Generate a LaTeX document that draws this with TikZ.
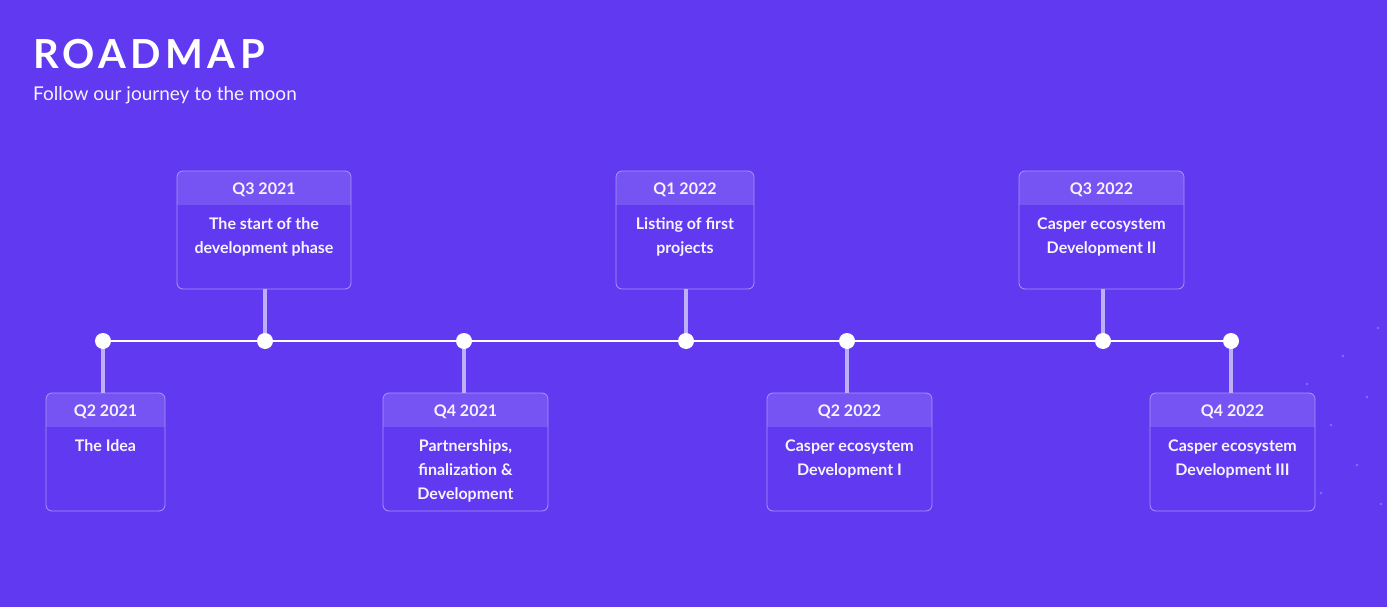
\documentclass[tikz,border=0pt]{standalone}
\usepackage{fontspec}
\setmainfont{Lato}
\newfontfamily\titlefont[LetterSpace=11]{Lato}
\definecolor{bgc}{RGB}{96,57,241}
\definecolor{hdrc}{RGB}{117,84,243}
\definecolor{edgec}{RGB}{170,150,248}
\definecolor{stemc}{RGB}{190,175,250}
\definecolor{txtc}{RGB}{246,243,255}
\definecolor{starc}{RGB}{135,110,245}
% #1 name, #2 x1, #3 y1, #4 x2, #5 y2, #6 header, #7 body, #8 number of body lines
\newcommand\rmbox[8]{%
  \node[boxshape, minimum width={#4-#2}, minimum height={#5-#3}] (#1) at ({(#2+#4)/2},{(#3+#5)/2}) {};
  \begin{scope}
    \clip[rounded corners=6pt] (#1.south west) rectangle (#1.north east);
    \fill[hdrc] (#1.north west) rectangle ([yshift=-34pt]#1.north east);
  \end{scope}
  \draw[edgec, line width=0.8pt, rounded corners=6pt] (#1.south west) rectangle (#1.north east);
  \node[hdrtext] (#1h) at ({(#2+#4)/2},{#3+23}) {#6};
  \node[bodytext] (#1b) at ({(#2+#4)/2},{#3+58+24*(#8-1)}) {#7};
}
\begin{document}
\begin{tikzpicture}[x=1pt,y=-1pt,
  boxshape/.style={rectangle, inner sep=0pt, outer sep=0pt},
  hdrtext/.style={text=txtc, font=\fontsize{16}{24}\selectfont\bfseries, anchor=base, inner sep=0pt},
  bodytext/.style={text=txtc, font=\fontsize{16}{24}\selectfont\bfseries, anchor=base, align=center, inner sep=0pt},
  dotnode/.style={circle, fill=white, minimum size=16pt, inner sep=0pt, outer sep=0pt},
  stem/.style={stemc, line width=4pt},
  tline/.style={white, line width=2pt},
  star/.style={starc}]
\fill[bgc] (0,0) rectangle (1387,607);
\useasboundingbox (0,0) rectangle (1387,607);
\node[anchor=base west, inner sep=0pt, text=white, font=\titlefont\fontsize{40}{40}\selectfont\bfseries] (title) at (33,69) {ROADMAP};
\node[anchor=base west, inner sep=0pt, text=txtc, font=\fontsize{19}{22}\selectfont] (sub) at (33,101) {Follow our journey to the moon};
% stars
\foreach \sx/\sy in {1378/328,1343/356,1307/384,1367/397,1331/425,1357/465,1321/493,1381/504}
  \fill[star] (\sx,\sy) circle (1.4pt);
% boxes
\rmbox{b1}{46}{393}{165}{511}{Q2 2021}{The Idea}{1}
\rmbox{b2}{177}{171}{351}{289}{Q3 2021}{The start of the\\development phase}{2}
\rmbox{b3}{383}{393}{548}{511}{Q4 2021}{Partnerships,\\finalization \&\\Development}{3}
\rmbox{b4}{616}{171}{754}{289}{Q1 2022}{Listing of first\\projects}{2}
\rmbox{b5}{767}{393}{932}{511}{Q2 2022}{Casper ecosystem\\Development I}{2}
\rmbox{b6}{1019}{171}{1184}{289}{Q3 2022}{Casper ecosystem\\Development II}{2}
\rmbox{b7}{1150}{393}{1315}{511}{Q4 2022}{Casper ecosystem\\Development III}{2}
% timeline points
\coordinate (p1) at (103,341);
\coordinate (p2) at (265,341);
\coordinate (p3) at (464,341);
\coordinate (p4) at (686,341);
\coordinate (p5) at (847,341);
\coordinate (p6) at (1103,341);
\coordinate (p7) at (1231,341);
\draw[tline] (p1) -- (p7);
\draw[stem] (p1) -- (p1 |- b1.north);
\draw[stem] (p2) -- (p2 |- b2.south);
\draw[stem] (p3) -- (p3 |- b3.north);
\draw[stem] (p4) -- (p4 |- b4.south);
\draw[stem] (p5) -- (p5 |- b5.north);
\draw[stem] (p6) -- (p6 |- b6.south);
\draw[stem] (p7) -- (p7 |- b7.north);
\foreach \i in {1,...,7} \node[dotnode] (d\i) at (p\i) {};
\end{tikzpicture}
\end{document}
